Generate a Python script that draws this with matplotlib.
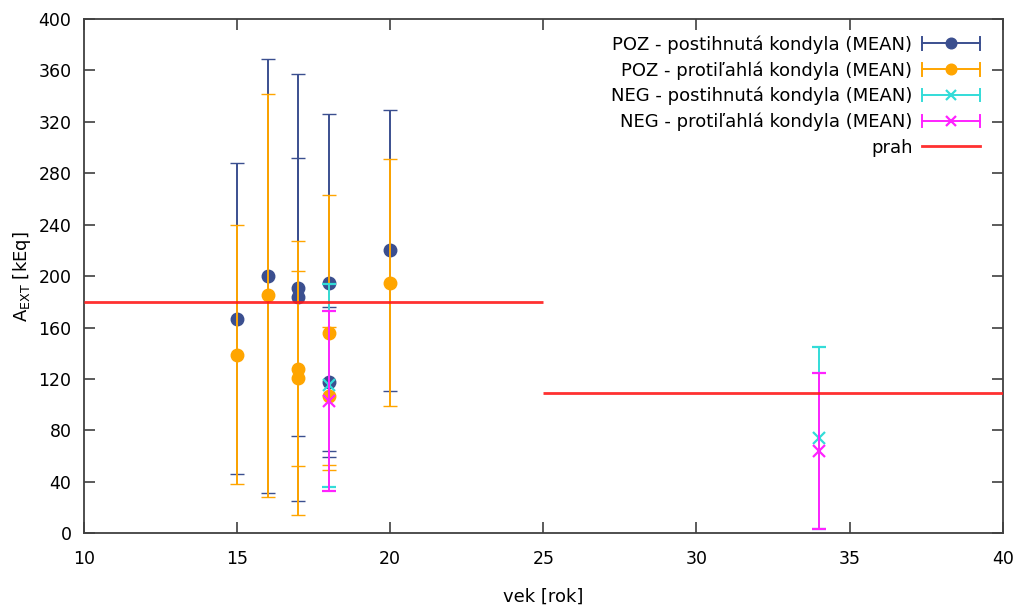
import matplotlib
matplotlib.use('Agg')
import matplotlib.pyplot as plt
from matplotlib.legend_handler import HandlerBase
from matplotlib.lines import Line2D

plt.rcParams['font.family'] = 'DejaVu Sans'
plt.rcParams['mathtext.default'] = 'regular'

# POZ - postihnuta kondyla
poz_post_x = [15, 16, 17, 17, 18, 18, 20]
poz_post_y = [167, 200, 191, 184, 195, 117.5, 220]
poz_post_err = [121, 169, 166, 108, 131, 58.5, 109]

# POZ - protilahla kondyla
poz_prot_x = [15, 16, 17, 17, 18, 18, 20]
poz_prot_y = [139, 185, 128, 121, 156, 107, 195]
poz_prot_err = [101, 157, 76, 106.5, 107, 53.5, 96]

# NEG
neg_post_x = [18, 34]
neg_post_y = [115, 74]
neg_post_err = [79, 71]

neg_prot_x = [18, 34]
neg_prot_y = [103, 64]
neg_prot_err = [70, 60.5]

# prah (threshold)
prah_level = [180, 109]
prah_from = [10, 25]
prah_to = [25, 40]

labels = ['POZ - postihnutá kondyla (MEAN)', 'POZ - protiľahlá kondyla (MEAN)',
          'NEG - postihnutá kondyla (MEAN)', 'NEG - protiľahlá kondyla (MEAN)', 'prah']
colors = ['#3b4f8f', '#ffa500', '#33dcd8', '#ff22ff', '#ff1a1a']


class GnuErrHandler(HandlerBase):
    # horizontal bar with end caps and marker in the middle, gnuplot style
    def __init__(self, color, marker, ms, mew):
        super().__init__()
        self.c, self.m, self.ms, self.mew = color, marker, ms, mew

    def create_artists(self, legend, orig, xd, yd, w, h, fs, trans):
        y = yd + h / 2
        a = Line2D([xd, xd + w], [y, y], color=self.c, lw=1.4)
        l = Line2D([xd, xd], [y - 4.5, y + 4.5], color=self.c, lw=1.4)
        r = Line2D([xd + w, xd + w], [y - 4.5, y + 4.5], color=self.c, lw=1.4)
        m = Line2D([xd + w / 2], [y], color=self.c, marker=self.m, ms=self.ms,
                   mew=self.mew, ls='none')
        arts = [a, l, r, m]
        for art in arts:
            art.set_transform(trans)
        return arts


fig = plt.figure(figsize=(10.18, 6.10), dpi=100)
ax = fig.add_axes([0.0825, 0.1257, 0.9025, 0.8432])

series = [(poz_post_x, poz_post_y, poz_post_err, 'o', 9, 1),
          (poz_prot_x, poz_prot_y, poz_prot_err, 'o', 9, 1),
          (neg_post_x, neg_post_y, neg_post_err, 'x', 8, 1.6),
          (neg_prot_x, neg_prot_y, neg_prot_err, 'x', 8, 1.6)]

handles = []
hmap = {}
for i, (x, y, e, mk, ms, mew) in enumerate(series):
    eb = ax.errorbar(x, y, yerr=e, fmt=mk, color=colors[i], ms=ms, mew=mew,
                     elinewidth=1.4, capsize=4.8, capthick=1.4, zorder=3 + i)
    handles.append(eb)
    hmap[eb] = GnuErrHandler(colors[i], mk, ms * 0.85, mew)

for lev, a, b in zip(prah_level, prah_from, prah_to):
    ax.hlines(lev, a, b, color=colors[4], lw=2.0, alpha=0.9, zorder=10)
prah_handle = Line2D([], [], color=colors[4], lw=2.0, alpha=0.9)
handles.append(prah_handle)

ax.set_xlim(10, 40)
ax.set_ylim(0, 400)
ax.set_xticks(range(10, 41, 5))
ax.set_yticks(range(0, 401, 40))
ax.tick_params(direction='in', length=8, width=1.2, top=True, right=True,
               labelsize=12.5, color='#404040')
ax.tick_params(axis='y', pad=9)
ax.tick_params(axis='x', pad=12)
for s in ax.spines.values():
    s.set_color('#404040')
    s.set_linewidth(1.3)

ax.set_xlabel('vek [rok]', fontsize=13, labelpad=14)
ax.set_ylabel('A$_{EXT}$ [kEq]', fontsize=13, labelpad=4)

ax.legend(handles, labels, handler_map=hmap, loc='upper right', frameon=False,
          markerfirst=False, fontsize=13, handlelength=3.2, labelspacing=0.41,
          handletextpad=0.55, borderaxespad=0,
          bbox_to_anchor=(1 - 15.3 / 918.7, 1 - 9.0 / 514.4))

fig.savefig('out.png', dpi=100)
